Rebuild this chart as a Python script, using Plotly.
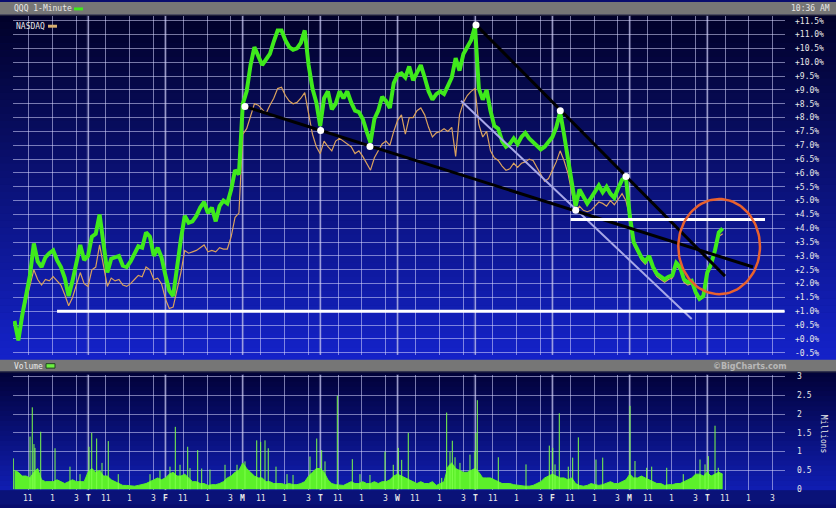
import math
import plotly.graph_objects as go

W, H = 836, 508

# ---------------- data ----------------
day_letters = ["", "T", "F", "M", "T", "W", "T", "F", "M", "T"]
hour_labels = ["11", "1", "3"]
hour_frac = [1.5 / 6.5, 3.5 / 6.5, 5.5 / 6.5]   # 11:00, 1:00, 3:00 within a 9:30-16:00 session

pct_ticks = [-0.5, 0.0, 0.5, 1.0, 1.5, 2.0, 2.5, 3.0, 3.5, 4.0, 4.5, 5.0, 5.5, 6.0,
             6.5, 7.0, 7.5, 8.0, 8.5, 9.0, 9.5, 10.0, 10.5, 11.0, 11.5]
pct_labels = ["-0.5%", "+0.0%", "+0.5%", "+1.0%", "+1.5%", "+2.0%", "+2.5%", "+3.0%",
              "+3.5%", "+4.0%", "+4.5%", "+5.0%", "+5.5%", "+6.0%", "+6.5%", "+7.0%",
              "+7.5%", "+8.0%", "+8.5%", "+9.0%", "+9.5%", "+10.0%", "+10.5%", "+11.0%", "+11.5%"]
vol_ticks = [0, 0.5, 1, 1.5, 2, 2.5, 3]
vol_labels = ["0", "0.5", "1", "1.5", "2", "2.5", "3"]

samples_per_day = 20  # one reading every ~20 trading minutes

qqq = [0.65, -0.05, 0.85, 1.5, 2.3, 3.45, 2.8, 2.6, 2.95, 3.1, 3.2, 2.85, 2.6, 2.2, 1.55, 2.1, 2.7, 3.4, 2.85,
       3.0, 3.7, 3.8, 4.5, 3.35, 2.4, 2.9, 2.95, 3.0, 2.65, 2.6, 2.8, 3.05, 3.35, 3.3, 3.85, 3.7, 3.0, 3.3, 2.95,
       2.3, 1.75, 1.55, 2.65, 3.6, 4.45, 4.2, 4.25, 4.45, 4.75, 4.95, 4.55, 4.75, 4.25, 4.8, 5.0, 4.9, 5.4, 6.1, 5.95,
       8.5, 8.95, 9.9, 10.55, 10.25, 9.9, 10.1, 10.3, 10.75, 11.15, 11.15, 10.8, 10.55, 10.45, 10.5, 10.7, 11.15, 9.9, 9.05, 8.55,
       7.7, 8.7, 8.95, 8.3, 8.5, 8.95, 8.7, 8.95, 8.55, 8.25, 8.2, 7.95, 7.5, 7.1, 7.95, 8.25, 8.75, 8.6, 8.35, 9.25,
       9.55, 9.6, 9.45, 9.85, 9.35, 9.6, 9.9, 9.45, 8.95, 8.65, 8.85, 8.95, 8.85, 9.15, 9.45, 10.15, 9.7, 10.3, 10.55, 10.8,
       11.3, 9.05, 8.65, 9.0, 8.25, 7.7, 7.6, 7.15, 6.95, 7.05, 7.25, 7.05, 7.3, 7.45, 7.25, 7.1, 7.0, 6.85, 6.95, 7.1,
       7.3, 7.65, 8.2, 7.4, 6.55, 5.5, 4.8, 5.4, 5.15, 4.9, 5.1, 5.3, 5.55, 5.3, 5.5, 5.25, 5.1, 5.45, 5.75, 5.85,
       4.45, 3.5, 3.25, 2.95, 2.8, 3.0, 2.6, 2.35, 2.25, 2.15, 2.25, 2.3, 2.75, 2.6, 2.15, 2.05, 2.1, 1.7, 1.45, 1.55,
       2.4, 2.7, 3.2, 3.85, 4.0]

nasdaq = [0.6, -0.05, 0.8, 1.4, 1.9, 2.5, 2.15, 1.95, 2.15, 2.1, 2.25, 2.1, 1.95, 1.6, 1.2, 1.5, 1.95, 2.4, 2.0,
          1.9, 2.5, 2.6, 3.4, 2.6, 1.9, 2.2, 2.1, 2.15, 1.95, 1.9, 2.0, 2.15, 2.3, 2.25, 2.6, 2.5, 2.15, 2.2, 2.0,
          1.45, 1.1, 1.15, 1.8, 2.4, 3.2, 3.1, 3.15, 3.2, 3.3, 3.4, 3.15, 3.2, 3.15, 3.3, 3.25, 3.25, 3.7, 4.4, 4.55,
          7.4, 7.6, 8.05, 8.5, 8.45, 8.3, 8.15, 8.45, 8.7, 9.05, 9.1, 8.8, 8.6, 8.5, 8.55, 8.7, 8.9, 8.15, 7.4, 6.95,
          6.7, 7.15, 6.95, 6.8, 7.15, 7.25, 7.15, 7.05, 6.95, 6.7, 6.8, 6.6, 6.35, 6.1, 6.55, 6.8, 7.05, 7.15, 7.0, 7.5,
          7.9, 8.1, 7.4, 8.0, 8.0, 8.25, 8.35, 8.1, 7.65, 7.3, 7.45, 7.5, 7.6, 7.5, 7.65, 6.6, 8.1, 8.55, 8.8, 8.95,
          9.05, 7.75, 7.3, 7.5, 6.8, 6.55, 6.45, 6.25, 6.1, 6.15, 6.35, 6.2, 6.35, 6.4, 6.5, 6.45, 6.2, 6.0, 5.7, 5.8,
          6.1, 6.4, 6.8, 6.45, 6.0, 5.25, 4.6, 4.8, 4.65, 4.6, 4.65, 4.8, 4.95, 4.9, 4.8, 5.0, 4.85, 5.05, 5.25, 5.0,
          4.4, 3.4, 3.15, 2.85, 2.7, 2.9, 2.5, 2.25, 2.15, 2.05, 2.15, 2.2, 2.65, 2.5, 2.05, 1.95, 2.0, 1.6, 1.4, 1.5,
          2.3, 2.6, 3.1, 3.7, 3.8]

vol_base = [0.5, 0.45, 0.35, 0.35, 0.3, 0.45, 0.55, 0.25, 0.2, 0.2, 0.2, 0.25, 0.2, 0.15, 0.2, 0.25, 0.2, 0.2, 0.2,
            0.45, 0.55, 0.45, 0.5, 0.35, 0.35, 0.25, 0.2, 0.15, 0.1, 0.1, 0.08, 0.08, 0.1, 0.12, 0.15, 0.2, 0.25, 0.3, 0.25,
            0.3, 0.4, 0.45, 0.35, 0.35, 0.4, 0.3, 0.2, 0.2, 0.15, 0.15, 0.1, 0.12, 0.12, 0.15, 0.2, 0.3, 0.35, 0.45, 0.5,
            0.7, 0.55, 0.45, 0.35, 0.3, 0.3, 0.2, 0.2, 0.15, 0.15, 0.15, 0.12, 0.15, 0.12, 0.12, 0.15, 0.2, 0.35, 0.45, 0.55,
            0.55, 0.45, 0.25, 0.15, 0.12, 0.1, 0.1, 0.15, 0.2, 0.15, 0.15, 0.2, 0.15, 0.15, 0.2, 0.15, 0.2, 0.2, 0.25, 0.35,
            0.4, 0.35, 0.3, 0.25, 0.2, 0.15, 0.2, 0.15, 0.15, 0.2, 0.1, 0.15, 0.2, 0.6, 0.7, 0.55, 0.5, 0.45, 0.45, 0.5,
            0.55, 0.45, 0.3, 0.3, 0.3, 0.25, 0.2, 0.15, 0.15, 0.15, 0.12, 0.1, 0.1, 0.08, 0.08, 0.1, 0.15, 0.2, 0.3, 0.35,
            0.4, 0.35, 0.3, 0.3, 0.25, 0.3, 0.15, 0.1, 0.08, 0.1, 0.15, 0.12, 0.1, 0.12, 0.15, 0.2, 0.15, 0.15, 0.2, 0.25,
            0.4, 0.3, 0.3, 0.35, 0.3, 0.25, 0.2, 0.15, 0.15, 0.1, 0.12, 0.12, 0.15, 0.15, 0.2, 0.25, 0.3, 0.4, 0.4, 0.35,
            0.45, 0.35, 0.4, 0.45, 0.4]

vol_spike_t = [0.035, 0.251, 0.280, 0.302, 0.315, 0.389, 0.574, 0.767, 0.897,
               1.013, 1.048, 1.112, 1.181, 1.262, 1.391, 1.801, 1.930,
               2.059, 2.128, 2.189, 2.288, 2.318, 2.417, 2.469, 2.576, 2.770, 2.925,
               3.028, 3.180, 3.231, 3.287, 3.329, 3.429, 3.571, 3.649,
               3.868, 3.955, 4.019, 4.062, 4.221, 4.415, 4.514, 4.643, 4.837, 4.944,
               5.009, 5.053, 5.138, 5.570, 5.634, 5.677, 5.707, 5.742, 5.806, 5.935, 5.999,
               6.012, 6.030, 6.301, 6.659,
               6.960, 7.004, 7.034, 7.089, 7.205, 7.262, 7.335, 7.563, 7.650,
               8.003, 8.067, 8.218, 8.283, 8.477, 8.691,
               8.907, 8.972, 9.014, 9.101, 9.143]
vol_spike_v = [0.82, 1.4, 2.18, 1.2, 1.1, 1.53, 1.09, 0.6, 0.4,
               1.13, 1.5, 1.35, 0.7, 1.28, 0.4, 0.4, 0.5,
               0.6, 1.66, 0.65, 1.13, 0.56, 1.04, 0.55, 0.52, 0.65, 0.65,
               0.74, 1.3, 1.26, 1.3, 1.09, 0.6, 0.4, 0.38,
               0.87, 1.35, 1.04, 0.74, 2.49, 0.8, 0.4, 0.38, 1.0, 0.65,
               1.1, 0.78, 1.5, 0.3, 2.04, 1.0, 1.29, 0.85, 0.7, 0.92, 1.0,
               1.5, 2.37, 0.85, 0.66,
               1.16, 1.1, 0.66, 2.02, 0.6, 0.84, 1.38, 0.79, 0.84,
               2.22, 0.75, 0.57, 0.6, 0.57, 0.4,
               0.79, 0.66, 0.88, 1.69, 0.57]

# hand-drawn annotations (in chart units: trading days, percent)
trend1_x, trend1_y = [3.028, 9.592], [8.40, 2.60]
trend2_x, trend2_y = [6.013, 9.230], [11.35, 2.27]
trend3_x, trend3_y = [5.819, 8.800], [8.61, 0.725]
support_x, support_y = [0.60, 10.0], [1.0, 1.0]
resist_x, resist_y = [7.236, 9.747], [4.32, 4.32]
pivot_x = [3.028, 4.006, 4.643, 7.301, 6.013, 7.102, 7.951]
pivot_y = [8.40, 7.53, 6.96, 4.65, 11.35, 8.25, 5.87]
ellipse_box = [8.627, 9.682, 1.618, 5.06]   # x0, x1, y0, y1

# ---------------- layout helpers ----------------
def px_x(p):
    return p / W

def px_y(p):
    return 1 - p / H

t_series = [i / samples_per_day for i in range(1, len(qqq) + 1)]

tick_vals, tick_text = [], []
for d, letter in enumerate(day_letters):
    if letter:
        tick_vals.append(d)
        tick_text.append("<b>" + letter + "</b>")
    for f, lab in zip(hour_frac, hour_labels):
        tick_vals.append(d + f)
        tick_text.append(lab)

X_LEFT, X_RIGHT = 13, 785          # plot area in pixels
X0_PX, DAY_PX = 10.6, 77.4         # pixel of first session open, pixels per session
x_range = [(X_LEFT - X0_PX) / DAY_PX, (X_RIGHT - X0_PX) / DAY_PX]

P_TOP, P_BOT = 14, 357
y_range = [11.5 - (P_BOT - 19) / 28.0, 11.5 + (19 - P_TOP) / 28.0]
V_TOP, V_BOT = 377, 494
v_range = [(493 - V_BOT) / 38.0, (493 - V_TOP) / 38.0]

GRID = "rgba(215,215,255,0.55)"
LABEL_FONT = dict(family="DejaVu Sans Mono", size=8, color="#e8e8e8")

fig = go.Figure()

fig.add_trace(go.Scatter(x=t_series, y=nasdaq, mode="lines", xaxis="x", yaxis="y",
                         line=dict(color="#d9a15e", width=1.2), hoverinfo="skip"))
fig.add_trace(go.Scatter(x=t_series, y=qqq, mode="lines", xaxis="x", yaxis="y",
                         line=dict(color="#3fea1c", width=4), hoverinfo="skip"))

for tx, ty, col, wd in [(trend3_x, trend3_y, "#a8a8e8", 2),
                        (trend1_x, trend1_y, "#000000", 3),
                        (trend2_x, trend2_y, "#000000", 3),
                        (support_x, support_y, "#ffffff", 3),
                        (resist_x, resist_y, "#ffffff", 3)]:
    fig.add_trace(go.Scatter(x=tx, y=ty, mode="lines", xaxis="x", yaxis="y",
                             line=dict(color=col, width=wd), hoverinfo="skip"))

fig.add_trace(go.Scatter(x=pivot_x, y=pivot_y, mode="markers", xaxis="x", yaxis="y",
                         marker=dict(color="white", size=7), hoverinfo="skip"))

# ellipse drawn as a closed curve inside its bounding box
cx = (ellipse_box[0] + ellipse_box[1]) / 2
cy = (ellipse_box[2] + ellipse_box[3]) / 2
rx = (ellipse_box[1] - ellipse_box[0]) / 2
ry = (ellipse_box[3] - ellipse_box[2]) / 2
ex = [cx + rx * math.cos(2 * math.pi * k / 96) for k in range(97)]
ey = [cy + ry * math.sin(2 * math.pi * k / 96) for k in range(97)]
fig.add_trace(go.Scatter(x=ex, y=ey, mode="lines", xaxis="x", yaxis="y",
                         line=dict(color="#e8612e", width=2.5), hoverinfo="skip"))

# volume
fig.add_trace(go.Scatter(x=t_series, y=vol_base, mode="lines", fill="tozeroy", xaxis="x2", yaxis="y2",
                         line=dict(color="#5cf02a", width=1), fillcolor="#5cf02a", hoverinfo="skip"))
sx, sy = [], []
for t, v in zip(vol_spike_t, vol_spike_v):
    sx += [t, t, None]
    sy += [0, v, None]
fig.add_trace(go.Scatter(x=sx, y=sy, mode="lines", xaxis="x2", yaxis="y2",
                         line=dict(color="#7dff4a", width=1), hoverinfo="skip"))

shapes = []

def band(y_a, y_b, c_a, c_b, n):
    for k in range(n):
        f = (k + 0.5) / n
        c = tuple(int(round(c_a[j] + (c_b[j] - c_a[j]) * f)) for j in range(3))
        ya = y_a + (y_b - y_a) * k / n
        yb = y_a + (y_b - y_a) * (k + 1) / n
        shapes.append(dict(type="rect", xref="paper", yref="paper", x0=0, x1=1,
                           y0=px_y(yb) - 0.001, y1=px_y(ya), layer="below",
                           line=dict(width=0), fillcolor="rgb(%d,%d,%d)" % c))

band(13, 357, (1, 1, 40), (20, 34, 200), 48)
band(357, 362, (20, 34, 200), (20, 34, 200), 1)
band(374, 494, (1, 1, 55), (16, 30, 180), 24)
band(494, 508, (10, 18, 120), (10, 18, 120), 1)

# header bars
for y_a, y_b in [(0, 13), (362, 374)]:
    shapes.append(dict(type="rect", xref="paper", yref="paper", x0=0, x1=1,
                       y0=px_y(y_b), y1=px_y(y_a), layer="below",
                       line=dict(width=0), fillcolor="rgb(118,118,118)"))
    shapes.append(dict(type="rect", xref="paper", yref="paper", x0=0, x1=1,
                       y0=px_y(y_b + 1), y1=px_y(y_b), layer="below",
                       line=dict(width=0), fillcolor="rgb(40,40,60)"))

# session boundaries
for d in range(1, len(day_letters)):
    for yr in [(P_TOP, P_BOT), (V_TOP, V_BOT)]:
        shapes.append(dict(type="line", xref="paper", yref="paper",
                           x0=px_x(X0_PX + DAY_PX * d), x1=px_x(X0_PX + DAY_PX * d),
                           y0=px_y(yr[1]), y1=px_y(yr[0]), layer="below",
                           line=dict(color="rgba(160,160,205,0.45)", width=2.5)))

# legend swatches
shapes.append(dict(type="rect", xref="paper", yref="paper", x0=px_x(74), x1=px_x(83),
                   y0=px_y(8.5), y1=px_y(5.5), line=dict(width=0), fillcolor="#3fea1c"))
shapes.append(dict(type="rect", xref="paper", yref="paper", x0=px_x(48), x1=px_x(57),
                   y0=px_y(26), y1=px_y(23), line=dict(width=0), fillcolor="#d9b070"))
shapes.append(dict(type="rect", xref="paper", yref="paper", x0=px_x(46), x1=px_x(55),
                   y0=px_y(370.5), y1=px_y(366), line=dict(width=1, color="#204020"), fillcolor="#6cf040"))

ann = [
    dict(text="QQQ 1-Minute", x=px_x(13), y=px_y(7), xanchor="left", yanchor="middle"),
    dict(text="10:36 AM", x=px_x(831), y=px_y(7), xanchor="right", yanchor="middle"),
    dict(text="NASDAQ", x=px_x(15), y=px_y(24.5), xanchor="left", yanchor="middle"),
    dict(text="Volume", x=px_x(13), y=px_y(368.5), xanchor="left", yanchor="middle"),
    dict(text="<b>©BigCharts.com</b>", x=px_x(788), y=px_y(368.5), xanchor="right", yanchor="middle",
         font=dict(family="DejaVu Sans", size=8, color="#b8b8b8")),
    dict(text="Millions", x=px_x(823), y=px_y(437), xanchor="center", yanchor="middle", textangle=90),
]
annotations = []
for a in ann:
    base = dict(xref="paper", yref="paper", showarrow=False, font=LABEL_FONT, borderpad=0)
    base.update(a)
    annotations.append(base)

# bottom time labels placed just under the volume panel
for tv, tt in zip(tick_vals, tick_text):
    annotations.append(dict(xref="x2", yref="paper", x=tv, y=px_y(502), text=tt,
                            showarrow=False, font=LABEL_FONT, xanchor="center", yanchor="middle",
                            borderpad=0))

fig.update_layout(
    width=W, height=H, margin=dict(l=0, r=0, t=0, b=0),
    paper_bgcolor="rgb(8,12,110)", plot_bgcolor="rgba(0,0,0,0)",
    showlegend=False, shapes=shapes, annotations=annotations,
    xaxis=dict(domain=[px_x(X_LEFT), px_x(X_RIGHT)], range=x_range, tickvals=tick_vals,
               showticklabels=False, showgrid=True, gridcolor=GRID, gridwidth=1,
               zeroline=False, showline=False, ticks="", anchor="y"),
    yaxis=dict(domain=[px_y(P_BOT), px_y(P_TOP)], range=y_range, tickvals=pct_ticks, ticktext=pct_labels,
               side="right", showgrid=True, gridcolor=GRID, gridwidth=1, zeroline=False, showline=False,
               ticks="", ticklen=0, ticklabelstandoff=9, tickfont=LABEL_FONT, anchor="x"),
    xaxis2=dict(domain=[px_x(X_LEFT), px_x(X_RIGHT)], range=x_range, tickvals=tick_vals,
                showticklabels=False, showgrid=True, gridcolor=GRID, gridwidth=1, zeroline=False,
                showline=False, ticks="", anchor="y2"),
    yaxis2=dict(domain=[px_y(V_BOT), px_y(V_TOP)], range=v_range, tickvals=vol_ticks, ticktext=vol_labels,
                side="right", showgrid=True, gridcolor=GRID, gridwidth=1, zeroline=False, showline=False,
                ticks="", ticklen=0, ticklabelstandoff=11, tickfont=LABEL_FONT, anchor="x2"),
)

fig.write_html("out.html", config={"displayModeBar": False},
               post_script="document.body.style.margin='0';document.body.style.padding='0';"
                           "document.body.style.overflow='hidden';")
